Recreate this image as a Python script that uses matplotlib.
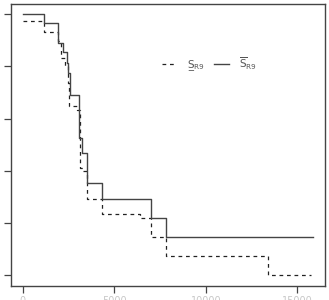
import numpy as np
import matplotlib.pyplot as plt

# survival bounds (time, survival), step after each time
upper_t = [0, 1160, 1950, 2220, 2400, 2490, 2580, 3050, 3090, 3220, 3490, 4350, 7000, 7820, 15850]
upper_s = [1.0, 0.964, 0.890, 0.853, 0.814, 0.773, 0.689, 0.582, 0.527, 0.467, 0.352, 0.292, 0.218, 0.145, 0.145]

lower_t = [0, 1160, 1950, 2090, 2310, 2450, 2550, 2950, 3130, 3310, 3490, 4350, 6400, 7000, 7820, 13400, 15760]
lower_s = [0.974, 0.930, 0.895, 0.832, 0.800, 0.737, 0.648, 0.634, 0.409, 0.400, 0.292, 0.233, 0.218, 0.145, 0.073, 0.0, 0.0]

xticks = [0, 5000, 10000, 15000]
yticks = [0.0, 0.2, 0.4, 0.6, 0.8, 1.0]

labels = ['S\u0332$_{\\mathregular{R9}}$', '$\\overline{\\mathregular{S}}_{\\mathregular{R9}}$']

fig = plt.figure(figsize=(3.29, 3.0), dpi=100)
ax = fig.add_axes([0.0337, 0.0473, 0.9529, 0.941])

ax.step(lower_t, lower_s, where='post', color='#222222', lw=0.9, ls=(0, (3, 3)), label=labels[0])
ax.step(upper_t, upper_s, where='post', color='#444444', lw=1.0, label=labels[1])

ax.set_xlim(-633, 16490)
ax.set_ylim(-0.04, 1.04)
ax.set_xticks(xticks)
ax.set_xticklabels([str(t) for t in xticks])
ax.set_yticks(yticks)
ax.set_yticklabels([str(t) for t in yticks], rotation=90, va='center')
ax.tick_params(length=5, width=0.9, color='#444444', labelsize=7, labelcolor='#c8c8c8', pad=2)

for sp in ax.spines.values():
    sp.set_color('#444444')
    sp.set_linewidth(1.0)

leg = ax.legend(loc='upper left', bbox_to_anchor=(0.45, 0.85), ncol=2, frameon=False,
                fontsize=7.5, handlelength=1.5, handletextpad=0.9, columnspacing=0.9,
                labelcolor='#555555')

fig.savefig('out.png', dpi=100)
